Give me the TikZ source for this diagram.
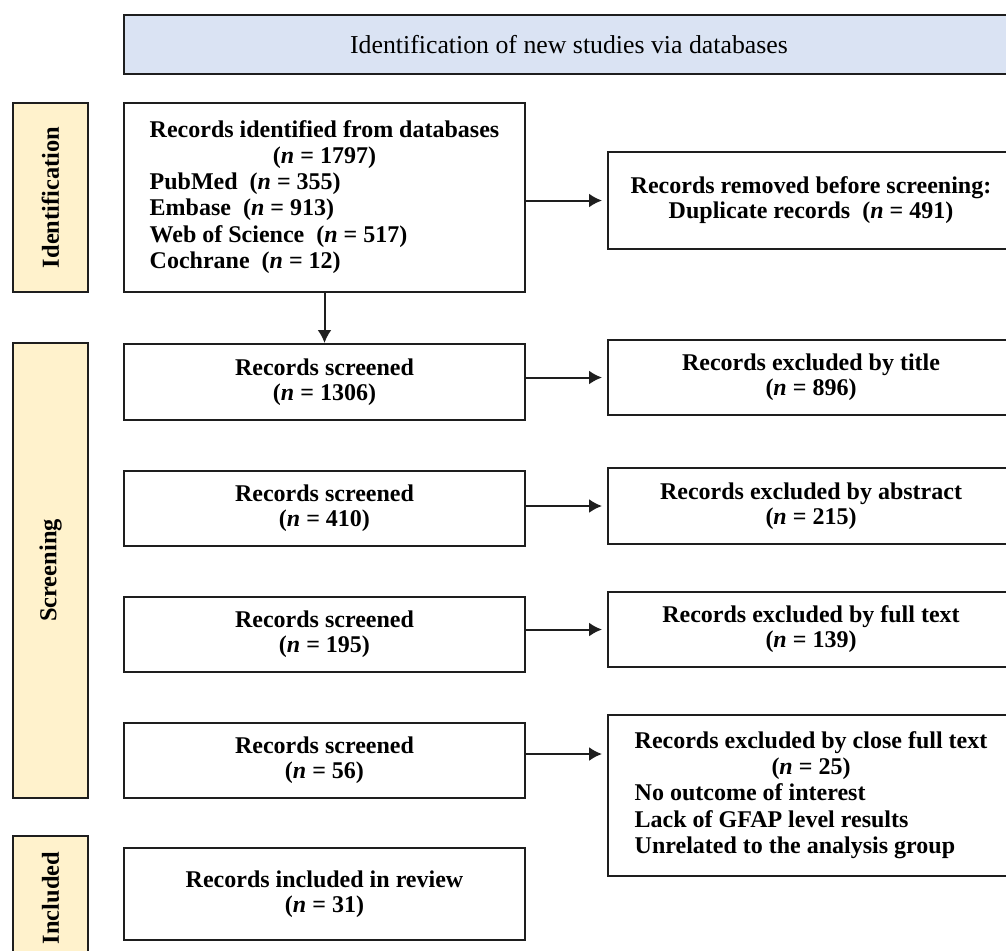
\documentclass[tikz,border=0pt]{standalone}
\usepackage{fontspec}
\setmainfont{Liberation Serif}
\usepackage{tikz}
\usetikzlibrary{%
  arrows.meta,% wg. Latex tips
  calc%
}
\definecolor{bannerblue}{HTML}{DAE3F3}
\definecolor{stageyellow}{HTML}{FFF2CC}
\definecolor{edgegray}{HTML}{1E1E1E}
\renewcommand{\arraystretch}{1.05}

\begin{document}
\begin{tikzpicture}[x=0.5pt,y=-0.5pt,
  box/.style={draw=edgegray, line width=1pt, fill=white, minimum width=200.5pt,
    align=center, inner sep=0pt, font=\fontsize{12}{12.5}\selectfont\bfseries},
  exbox/.style={box, minimum width=203pt},
  stage/.style={draw=edgegray, line width=1pt, fill=stageyellow, rotate=90,
    minimum height=37.5pt, inner sep=0pt, font=\fontsize{12.2}{12}\selectfont\bfseries},
  arr/.style={-{Latex[length=6.5pt,width=7pt]}, line width=1pt, edgegray},
]
\useasboundingbox (0,0) rectangle (1006,950);
\clip (0,0) rectangle (1006,950);
% banner
\node [draw=edgegray, line width=1pt, fill=bannerblue, minimum width=445pt,
  minimum height=29.5pt, font=\fontsize{12.9}{12}\selectfont]
  (banner) at (569,44.5) {Identification of new studies via databases};
% stages
\node [stage, minimum width=94.5pt] (idlab) at (50.5,197.5) {Identification};
\node [stage, minimum width=227.5pt] (scrlab) at (50.5,570.5) {Screening};
\node [stage, minimum width=62pt] (inclab) at (50.5,898) {Included};
% left column
\node [box, minimum height=94.5pt] (rec) at (324.5,197.5) {%
  \begin{tabular}{@{}l@{}}
  Records identified from databases\\
  \multicolumn{1}{c}{({\itshape n} = 1797)}\\
  PubMed\ \ ({\itshape n} = 355)\\
  Embase\ \ ({\itshape n} = 913)\\
  Web of Science\ \ ({\itshape n} = 517)\\
  Cochrane\ \ ({\itshape n} = 12)
  \end{tabular}};
\node [box, minimum height=38pt] (s1) at (324.5,382) {Records screened\\({\itshape n} = 1306)};
\node [box, minimum height=37.5pt] (s2) at (324.5,508.5) {Records screened\\({\itshape n} = 410)};
\node [box, minimum height=37.5pt] (s3) at (324.5,634.5) {Records screened\\({\itshape n} = 195)};
\node [box, minimum height=37.5pt] (s4) at (324.5,760.5) {Records screened\\({\itshape n} = 56)};
\node [box, minimum height=46pt] (inc) at (324.5,894) {Records included in review\\({\itshape n} = 31)};
% right column
\node [exbox, minimum height=48.5pt] (dup) at (811,200.5) {Records removed before screening:\\Duplicate records\ \ ({\itshape n} = 491)};
\node [exbox, minimum height=37.5pt] (e1) at (811,377.5) {Records excluded by title\\({\itshape n} = 896)};
\node [exbox, minimum height=38pt] (e2) at (811,506) {Records excluded by abstract\\({\itshape n} = 215)};
\node [exbox, minimum height=37.5pt] (e3) at (811,629.5) {Records excluded by full text\\({\itshape n} = 139)};
\node [exbox, minimum height=80.5pt] (e4) at (811,795.5) {%
  \begin{tabular}{@{}l@{}}
  Records excluded by close full text\\
  \multicolumn{1}{c}{({\itshape n} = 25)}\\
  No outcome of interest\\
  Lack of GFAP level results\\
  Unrelated to the analysis group
  \end{tabular}};
% arrows
\draw [arr] (rec.south) -- (s1.north);
\draw [arr, shorten >=2.5pt] (dup.west -| rec.east) -- (dup.west);
\draw [arr, shorten >=2.5pt] (e1.west -| s1.east) -- (e1.west);
\draw [arr, shorten >=2.5pt] (e2.west -| s2.east) -- (e2.west);
\draw [arr, shorten >=2.5pt] (e3.west -| s3.east) -- (e3.west);
\draw [arr, shorten >=2.5pt] ([yshift=3.25pt]s4.east) -- ([yshift=3.25pt]s4.east -| e4.west);
\end{tikzpicture}
\end{document}
